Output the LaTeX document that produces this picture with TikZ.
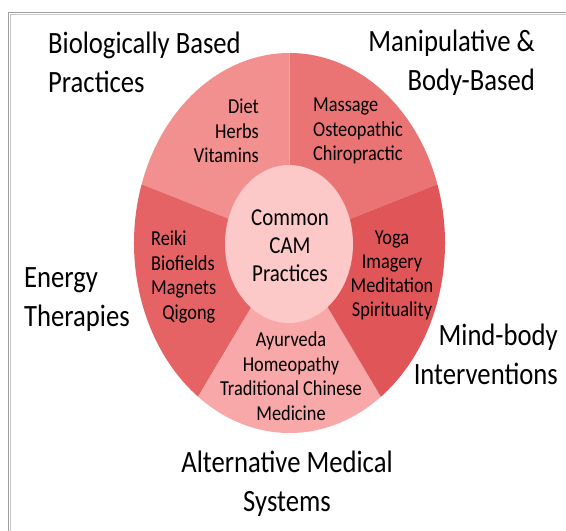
\documentclass[tikz,border=0pt]{standalone}
\usepackage{fontspec}
\setmainfont{Carlito}
\definecolor{cBio}{RGB}{242,144,144}
\definecolor{cMan}{RGB}{234,116,116}
\definecolor{cMind}{RGB}{224,85,88}
\definecolor{cEne}{RGB}{229,99,101}
\definecolor{cAlt}{RGB}{248,168,168}
\definecolor{cCen}{RGB}{253,200,200}
\definecolor{frameA}{RGB}{160,160,160}
\definecolor{frameB}{RGB}{200,200,200}
\tikzset{
  outer/.style={inner sep=0pt, xscale=0.86, font=\fontsize{31}{39}\selectfont, text=black},
  inner/.style={inner sep=0pt, xscale=0.86, font=\fontsize{21.3}{24.5}\selectfont, text=black},
  centre/.style={inner sep=0pt, xscale=0.86, font=\fontsize{24.3}{28}\selectfont, text=black},
}
\newcommand{\sector}[3]{%
  \fill[#1] (289.5pt,288pt) -- ++(#2:155.5pt and 190pt)
    arc[start angle=#2, end angle=#3, x radius=155.5pt, y radius=190pt] -- cycle;}
\begin{document}
\begin{tikzpicture}[x=1pt,y=1pt]
\useasboundingbox (0,0) rectangle (566,531);
\fill[white] (0,0) rectangle (566,531);
\begin{scope}
\clip (0,0) rectangle (566,531);
\draw[frameA, line width=0.9pt] (8,-100) rectangle (700,518.7);
\draw[frameB, line width=0.9pt] (10.3,-100) rectangle (700,516.5);
\end{scope}
% sectors
\sector{cMan}{18}{90}
\sector{cBio}{90}{162}
\sector{cEne}{162}{234}
\sector{cAlt}{234}{306}
\sector{cMind}{306}{378}
\fill[cCen] (289,287) ellipse[x radius=64pt, y radius=79pt];
% centre text
\node[centre, align=center] (core) at (290,285.5) {Common\\CAM\\Practices};
% sector texts
\node[inner, align=right, anchor=east] (bioitems) at (259,400) {Diet\\Herbs\\Vitamins};
\node[inner, align=left, anchor=west] (manitems) at (313,400) {Massage\\Osteopathic\\Chiropractic};
\node[inner, align=left, anchor=west] (eneitems) at (151,254) {Reiki\\Biofields\\Magnets\\\hspace*{13pt}Qigong};
\node[inner, align=center, font=\fontsize{21.3}{24}\selectfont] (minditems) at (392,256) {Yoga\\Imagery\\Meditation\\Spirituality};
\node[inner, align=center] (altitems) at (291,155) {Ayurveda\\Homeopathy\\Traditional Chinese\\Medicine};
% outer labels
\node[outer, align=left, anchor=west] (bio) at (48,469) {Biologically Based\\Practices};
\node[outer, align=right, anchor=east] (man) at (535,468) {Manipulative \&\\Body-Based};
\node[outer, align=left, anchor=west] (ene) at (24,231) {Energy\\Therapies};
\node[outer, align=right, anchor=east] (mind) at (558,177) {Mind-body\\Interventions};
\node[outer, align=center] (alt) at (287,47) {Alternative Medical\\Systems};
\end{tikzpicture}
\end{document}
